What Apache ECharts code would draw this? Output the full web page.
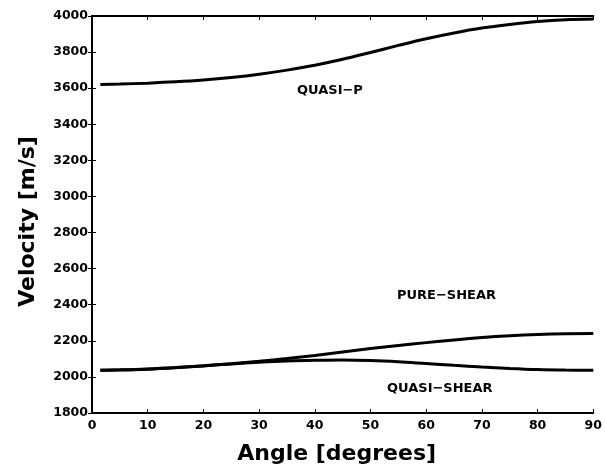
<!DOCTYPE html>
<html>
<head>
<meta charset="utf-8">
<script src="https://cdn.jsdelivr.net/npm/echarts@6/dist/echarts.min.js"></script>
<style>
  html, body { margin: 0; padding: 0; background: #fff; }
  #chart { width: 605px; height: 470px; }
</style>
</head>
<body>
<div id="chart"></div>
<script>
// Phase angle in degrees
const angles = [1.5, 5, 10, 15, 20, 25, 30, 35, 40, 45, 50, 55, 60, 65, 70, 75, 80, 85, 90];

// Velocities [m/s] for each wave mode
const quasiP = [3621, 3623, 3628, 3635, 3645, 3659, 3677, 3700, 3727, 3760, 3798, 3837, 3874, 3906, 3933, 3953, 3969, 3979, 3983];
const pureShear = [2037, 2038, 2043, 2051, 2061, 2073, 2087, 2102, 2119, 2138, 2157, 2174, 2190, 2205, 2218, 2228, 2235, 2239, 2240];
const quasiShear = [2037, 2039, 2044, 2052, 2062, 2072, 2081, 2088, 2092, 2094, 2091, 2084, 2074, 2064, 2055, 2047, 2041, 2038, 2037];

// Curve annotations
const curveLabels = ['QUASI\u2212P', 'PURE\u2212SHEAR', 'QUASI\u2212SHEAR'];

const FONT = 'DejaVu Sans';

function pairs(ys) {
  return angles.map((a, i) => [a, ys[i]]);
}

function lineSeries(ys) {
  return {
    type: 'line',
    data: pairs(ys),
    smooth: 0.35,
    symbol: 'none',
    lineStyle: { color: '#000', width: 3 },
    xAxisIndex: 0,
    yAxisIndex: 0,
    silent: true
  };
}

const tickLabel = { color: '#000', fontFamily: FONT, fontWeight: 'bold', fontSize: 12.5, formatter: v => String(v) };
const axisLine = { show: true, lineStyle: { color: '#000', width: 2 } };
const axisTick = { show: true, inside: true, length: 4, lineStyle: { color: '#000', width: 1 } };

const chart = echarts.init(document.getElementById('chart'), null, { renderer: 'canvas' });

chart.setOption({
  animation: false,
  backgroundColor: '#fff',
  grid: { left: 92, right: 8, top: 16, bottom: 55 },
  xAxis: [
    {
      type: 'value', min: 0, max: 90, interval: 10,
      axisLine: axisLine, axisTick: axisTick, splitLine: { show: false },
      axisLabel: Object.assign({ margin: 6 }, tickLabel),
      name: 'Angle [degrees]', nameLocation: 'middle', nameGap: 30,
      nameTextStyle: { color: '#000', fontFamily: FONT, fontWeight: 'bold', fontSize: 22, padding: [0, 12, 0, 0] }
    },
    {
      type: 'value', position: 'top', min: 0, max: 90, interval: 10,
      axisLine: axisLine, axisTick: axisTick, splitLine: { show: false },
      axisLabel: { show: false }
    }
  ],
  yAxis: [
    {
      type: 'value', min: 1800, max: 4000, interval: 200,
      axisLine: axisLine, axisTick: axisTick, splitLine: { show: false },
      axisLabel: Object.assign({ margin: 4 }, tickLabel),
      name: 'Velocity [m/s]', nameLocation: 'middle', nameGap: 53,
      nameTextStyle: { color: '#000', fontFamily: FONT, fontWeight: 'bold', fontSize: 22, padding: [0, 14, 0, 0] }
    },
    {
      type: 'value', position: 'right', min: 1800, max: 4000, interval: 200,
      axisLine: axisLine, axisTick: axisTick, splitLine: { show: false },
      axisLabel: { show: false }
    }
  ],
  series: [lineSeries(quasiP), lineSeries(pureShear), lineSeries(quasiShear)],
  graphic: [
    { type: 'text', left: 297, top: 84, style: { text: curveLabels[0], fill: '#000', font: 'bold 13px "DejaVu Sans"' } },
    { type: 'text', left: 397, top: 289, style: { text: curveLabels[1], fill: '#000', font: 'bold 13px "DejaVu Sans"' } },
    { type: 'text', left: 387, top: 382, style: { text: curveLabels[2], fill: '#000', font: 'bold 13px "DejaVu Sans"' } }
  ]
});
</script>
</body>
</html>
